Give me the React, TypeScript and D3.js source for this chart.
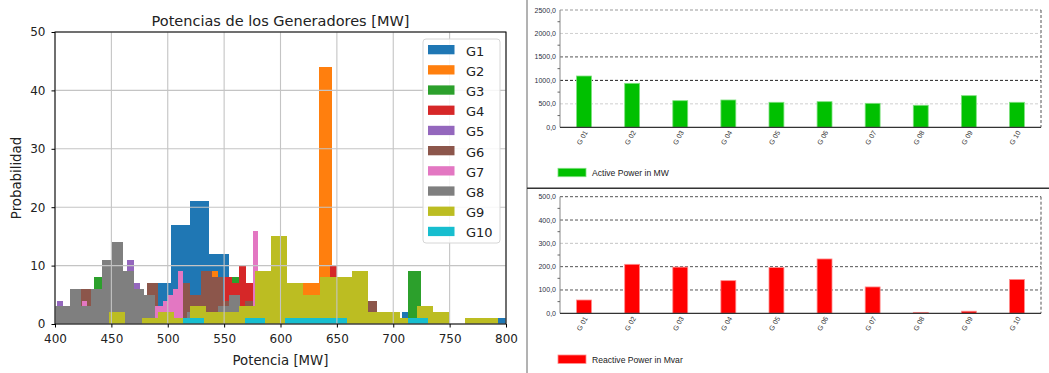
import { useRef, useEffect } from 'react'
import * as d3 from 'd3'

// ---- histogram of generator powers (one uniform-bin histogram per generator)
const genNames = ['G1', 'G2', 'G3', 'G4', 'G5', 'G6', 'G7', 'G8', 'G9', 'G10']
const genColors = ['#1f77b4', '#ff7f0e', '#2ca02c', '#d62728', '#9467bd', '#8c564b', '#e377c2', '#7f7f7f', '#bcbd22', '#17becf']
const binStart = [485.7, 533.1, 434.5, 550.3, 401.5, 422.8, 424.2, 394.5, 448.1, 513.8]
const binWidth = [17.05, 11.23, 12.1, 6.25, 5.7, 9.73, 4.45, 9.4, 14.35, 18.1]

const g1Counts = [7, 17, 21, 12, 4, 2, 3, 3, 3, 3, 3, 1, 1, 2, 1, 0, 0, 0, 1]
const g2Counts = [9, 4, 4, 5, 6, 6, 4, 7, 7, 44]
const g3Counts = [8, 5, 4, 3, 2, 2, 3, 3, 4, 4, 8, 3, 4, 5, 4, 3, 4, 5, 4, 5, 1, 1, 1, 9]
const g4Counts = [8, 7, 10, 7, 5, 6, 6, 8, 7, 5, 5, 4, 4, 5, 6, 10]
const g5Counts = [4, 3, 4, 5, 5, 5, 6, 6, 8, 10, 9, 11, 7]
const g6Counts = [6, 4, 5, 5, 4, 3, 7, 2, 3, 7, 5, 9, 8, 4, 3, 4, 3, 3, 3, 3, 3, 3, 4, 3, 3, 3, 4]
const g7Counts = [4, 2, 2, 2, 2, 3, 3, 3, 2, 2, 2, 2, 1, 2, 3, 3, 4, 5, 6, 9, 1, 1, 2, 2, 2, 2, 1, 2, 2, 2, 1, 2, 3, 2, 16]
const g8Counts = [3, 3, 6, 3, 6, 11, 14, 9, 6, 5, 0, 0, 0, 2, 0, 0, 3, 5]
const g9Counts = [2, 0, 1, 2, 1, 3, 2, 2, 3, 9, 15, 7, 5, 8, 8, 9, 2, 2, 1, 3, 2, 0, 1, 1]
const g10Counts = [1, 0, 0, 1, 0, 1, 1, 1, 0, 0, 0, 1]
const histCounts = [g1Counts, g2Counts, g3Counts, g4Counts, g5Counts, g6Counts, g7Counts, g8Counts, g9Counts, g10Counts]

const histXTicks = [400, 450, 500, 550, 600, 650, 700, 750, 800]
const histYTicks = [0, 10, 20, 30, 40, 50]

// ---- load flow results per generator
const genLabels = ['G 01', 'G 02', 'G 03', 'G 04', 'G 05', 'G 06', 'G 07', 'G 08', 'G 09', 'G 10']
const activePower = [1093, 937, 567, 582, 533, 546, 511, 469, 674, 533]
const reactivePower = [57, 210, 198, 140, 196, 233, 113, 4, 9, 145]
const activeTicks = [0, 500, 1000, 1500, 2000, 2500]
const reactiveTicks = [0, 100, 200, 300, 400, 500]

const MPL_FONT = 'DejaVu Sans, sans-serif'
const PF_FONT = 'Liberation Sans, Arial, sans-serif'

const App = () => {
  const svgRef = useRef<SVGSVGElement>(null)

  useEffect(() => {
    if (!svgRef.current) return
    const svg = d3.select(svgRef.current)
    svg.selectAll('*').remove()

    // ================= left: histogram =================
    const plot = { left: 55, right: 506, top: 32, bottom: 324 }
    const x = d3.scaleLinear().domain([400, 800]).range([plot.left, plot.right])
    const y = d3.scaleLinear().domain([0, 50]).range([plot.bottom, plot.top])

    svg.append('defs').append('clipPath').attr('id', 'hist-clip')
      .append('rect')
      .attr('x', plot.left).attr('y', plot.top)
      .attr('width', plot.right - plot.left).attr('height', plot.bottom - plot.top)

    const bars = svg.append('g').attr('clip-path', 'url(#hist-clip)')
    histCounts.forEach((counts, i) => {
      const bins = counts
        .map((c, j) => ({ x0: binStart[i] + j * binWidth[i], x1: binStart[i] + (j + 1) * binWidth[i], c }))
        .filter(b => b.c > 0)
      bars.append('g')
        .attr('fill', genColors[i])
        .attr('shape-rendering', 'crispEdges')
        .selectAll('rect')
        .data(bins)
        .join('rect')
        .attr('x', d => x(d.x0))
        .attr('width', d => x(d.x1) - x(d.x0))
        .attr('y', d => y(d.c))
        .attr('height', d => y(0) - y(d.c))
    })

    // grid (matplotlib draws it above the patches)
    const grid = svg.append('g').attr('stroke', '#c4c4c4').attr('stroke-width', 1.1)
    grid.selectAll('.gx').data(histXTicks).join('line')
      .attr('x1', d => x(d)).attr('x2', d => x(d))
      .attr('y1', plot.top).attr('y2', plot.bottom)
    grid.selectAll('.gy').data(histYTicks).join('line')
      .attr('x1', plot.left).attr('x2', plot.right)
      .attr('y1', d => y(d)).attr('y2', d => y(d))

    const xAxis = svg.append('g')
      .attr('transform', `translate(0,${plot.bottom})`)
      .call(d3.axisBottom(x).tickValues(histXTicks).tickSize(3.5).tickPadding(7).tickFormat(d3.format('d')))
      .attr('font-size', 12).attr('font-family', MPL_FONT)
    xAxis.select('.domain').remove()
    xAxis.selectAll('text').attr('fill', '#222')

    const yAxis = svg.append('g')
      .attr('transform', `translate(${plot.left},0)`)
      .call(d3.axisLeft(y).tickValues(histYTicks).tickSize(3.5).tickPadding(6).tickFormat(d3.format('d')))
      .attr('font-size', 12).attr('font-family', MPL_FONT)
    yAxis.select('.domain').remove()
    yAxis.selectAll('text').attr('fill', '#222')

    svg.append('rect')
      .attr('x', plot.left).attr('y', plot.top)
      .attr('width', plot.right - plot.left).attr('height', plot.bottom - plot.top)
      .attr('fill', 'none').attr('stroke', '#000').attr('stroke-width', 1)

    svg.append('text')
      .attr('x', (plot.left + plot.right) / 2).attr('y', 26)
      .attr('text-anchor', 'middle')
      .attr('font-family', MPL_FONT).attr('font-size', 14.5).attr('fill', '#222')
      .text('Potencias de los Generadores [MW]')

    svg.append('text')
      .attr('x', (plot.left + plot.right) / 2).attr('y', 365)
      .attr('text-anchor', 'middle')
      .attr('font-family', MPL_FONT).attr('font-size', 13.3).attr('fill', '#222')
      .text('Potencia [MW]')

    svg.append('text')
      .attr('transform', 'rotate(-90)')
      .attr('x', -(plot.top + plot.bottom) / 2).attr('y', 21)
      .attr('text-anchor', 'middle')
      .attr('font-family', MPL_FONT).attr('font-size', 13.3).attr('fill', '#222')
      .text('Probabilidad')

    // legend
    const legend = svg.append('g').attr('transform', 'translate(423,39)')
    legend.append('rect')
      .attr('width', 77).attr('height', 204).attr('rx', 3)
      .attr('fill', '#fff').attr('fill-opacity', 0.85)
      .attr('stroke', '#d6d6d6')
    const items = legend.selectAll('.item').data(genNames).join('g')
      .attr('transform', (_, i) => `translate(0,${6 + i * 20.2})`)
    items.append('rect')
      .attr('x', 5).attr('width', 26.5).attr('height', 9.3)
      .attr('fill', (_, i) => genColors[i])
    items.append('text')
      .attr('x', 43).attr('y', 10.5)
      .attr('font-family', MPL_FONT).attr('font-size', 13).attr('fill', '#222')
      .text(d => d)

    // ================= right: load flow bar charts =================
    const xb = d3.scaleBand<string>().domain(genLabels).range([560, 1041]).paddingInner(0.69).paddingOuter(0.345)

    const drawPanel = (
      values: number[], ticks: number[], yTop: number, yBottom: number,
      fill: string, edge: string, gridColors: string[], legendLabel: string, legendY: number
    ) => {
      const ys = d3.scaleLinear().domain([0, ticks[ticks.length - 1]]).range([yBottom, yTop])
      const g = svg.append('g')

      g.selectAll('.grid').data(ticks.slice(1)).join('line')
        .attr('x1', 560).attr('x2', 1041)
        .attr('y1', d => ys(d)).attr('y2', d => ys(d))
        .attr('stroke', (_, i) => gridColors[i]).attr('stroke-width', 1)
        .attr('stroke-dasharray', '3,2')

      g.append('line')
        .attr('x1', 1041).attr('x2', 1041).attr('y1', yTop).attr('y2', yBottom)
        .attr('stroke', '#555').attr('stroke-dasharray', '3,2')

      g.append('line')
        .attr('x1', 560).attr('x2', 560).attr('y1', yTop).attr('y2', yBottom)
        .attr('stroke', '#888')

      const minor = d3.pairs(ticks).map(([a, b]) => (a + b) / 2)
      g.selectAll('.minor').data(minor).join('line')
        .attr('x1', 557.5).attr('x2', 560)
        .attr('y1', d => ys(d)).attr('y2', d => ys(d))
        .attr('stroke', '#666')

      g.selectAll('.ylab').data(ticks).join('text')
        .attr('x', 556)
        .attr('y', d => Math.max(ys(d), 4) + 2.5)
        .attr('text-anchor', 'end')
        .attr('font-family', PF_FONT).attr('font-size', 7).attr('fill', '#2a2f45')
        .text(d => d.toFixed(1).replace('.', ','))

      g.selectAll('.bar').data(values).join('rect')
        .attr('x', (_, i) => xb(genLabels[i]) as number)
        .attr('width', xb.bandwidth())
        .attr('y', d => ys(d))
        .attr('height', d => ys(0) - ys(d))
        .attr('fill', fill).attr('stroke', edge).attr('stroke-width', 0.8)

      g.append('line')
        .attr('x1', 560).attr('x2', 1041).attr('y1', yBottom).attr('y2', yBottom)
        .attr('stroke', '#333').attr('stroke-width', 1.2)

      g.selectAll('.xlab').data(genLabels).join('text')
        .attr('transform', d => `translate(${(xb(d) as number) + xb.bandwidth() / 2 + 4},${yBottom + 5}) rotate(-60)`)
        .attr('text-anchor', 'end')
        .attr('font-family', PF_FONT).attr('font-size', 7).attr('fill', '#333')
        .text(d => d)

      g.append('rect')
        .attr('x', 558).attr('y', legendY).attr('width', 28).attr('height', 8.4)
        .attr('fill', fill).attr('stroke', edge).attr('stroke-width', 0.8)
      g.append('text')
        .attr('x', 592).attr('y', legendY + 7.5)
        .attr('font-family', PF_FONT).attr('font-size', 8.6).attr('fill', '#222')
        .text(legendLabel)
    }

    drawPanel(activePower, activeTicks, 10, 127.3, '#00c000', '#7fe07f',
      ['#cfcfcf', '#222', '#555', '#cfcfcf', '#999'], 'Active Power in MW', 168.3)
    drawPanel(reactivePower, reactiveTicks, 196.7, 313.3, '#ff0000', '#ff8c8c',
      ['#555', '#555', '#c4c4c4', '#555', '#555'], 'Reactive Power in Mvar', 355)

    // panel frames
    svg.append('line')
      .attr('x1', 527).attr('x2', 527).attr('y1', 0).attr('y2', 373)
      .attr('stroke', '#666').attr('stroke-width', 1)
    svg.append('line')
      .attr('x1', 527).attr('x2', 1049).attr('y1', 188.3).attr('y2', 188.3)
      .attr('stroke', '#333').attr('stroke-width', 1.5)
  }, [])

  return (
    <div style={{ position: 'absolute', left: 0, top: 0, background: '#fff' }}>
      <svg ref={svgRef} width={1049} height={373} style={{ display: 'block' }} />
    </div>
  )
}

export default App
